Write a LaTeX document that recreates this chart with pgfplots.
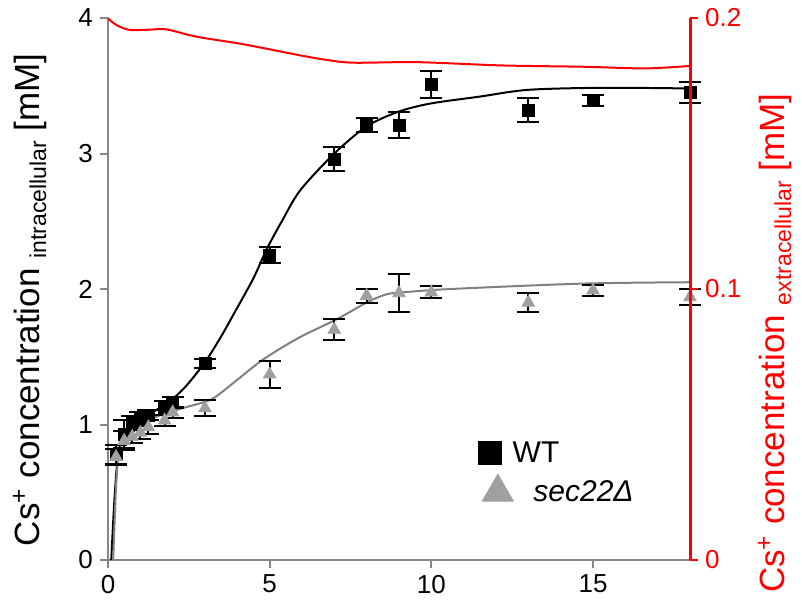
\documentclass[border=0pt]{standalone}
\usepackage{fontspec}
\setmainfont{Liberation Sans}
\usepackage{pgfplots}
\pgfplotsset{compat=1.18}
\definecolor{axgray}{RGB}{134,134,134}
\definecolor{fitgray}{RGB}{128,128,128}
\definecolor{trigray}{RGB}{160,160,160}
\newcommand{\sub}[1]{\raisebox{-0.35ex}{\fontsize{11.5}{11.5}\selectfont #1}}

% WT and sec22 means with SD
\pgfplotstableread{
x y e
0.25 0.78 0.07
0.5 0.93 0.10
0.75 1.01 0.05
1 1.04 0.05
1.25 1.07 0.04
1.75 1.12 0.05
2 1.16 0.04
3 1.45 0.03
5 2.25 0.06
7 2.96 0.09
8 3.21 0.05
9 3.21 0.095
10 3.51 0.10
13 3.32 0.09
15 3.39 0.04
18 3.45 0.075
}\wt
\pgfplotstableread{
x y e
0.25 0.76 0.06
0.5 0.88 0.07
0.75 0.91 0.05
1 0.94 0.05
1.25 0.98 0.05
1.75 1.03 0.04
2 1.09 0.04
3 1.12 0.06
5 1.37 0.10
7 1.70 0.08
8 1.95 0.05
9 1.97 0.14
10 1.975 0.045
13 1.90 0.07
15 1.99 0.04
18 1.94 0.06
}\sec

\begin{document}
\begin{tikzpicture}
\useasboundingbox (-54pt,-25.5pt) rectangle (347pt,280pt);
\begin{axis}[
  scale only axis, width=291pt, height=271pt,
  xmin=0, xmax=18, ymin=0, ymax=4,
  axis x line*=bottom, axis y line*=left,
  axis line style={axgray, line width=1.2pt, -},
  xtick={0,5,10,15}, ytick={0,1,2,3,4},
  tick align=outside, major tick length=4pt,
  tick style={axgray, line width=1pt},
  /pgf/number format/assume math mode=true,
  tick label style={font=\fontsize{13}{13}\selectfont},
  ylabel={Cs\textsuperscript{+} concentration \sub{intracellular} [mM]},
  ylabel style={font=\fontsize{17.5}{17.5}\selectfont, at={(axis description cs:0,0.48)}, anchor=center, yshift=39pt},
  clip=false,
  legend style={at={(axis description cs:0.626,0.197)}, anchor=west, draw=none, fill=none,
    font=\fontsize{15}{15}\selectfont},
  legend cell align=left,
]
\addplot[black, line width=1pt, smooth, forget plot] coordinates {(0.1,0) (0.2,0.45) (0.3,0.75) (0.45,0.92) (0.75,1.01) (1.3,1.08) (1.9,1.17) (2.4,1.28) (3,1.46) (3.5,1.65) (3.9,1.82) (4.5,2.08) (4.9,2.29) (5.4,2.51) (5.95,2.73) (7,3.0) (8,3.2) (9,3.31) (10,3.37) (11.5,3.42) (13,3.47) (15.3,3.485) (18,3.48)};
\addplot[fitgray, line width=1pt, smooth, forget plot] coordinates {(0.16,0) (0.26,0.59) (0.36,0.8) (0.57,0.935) (0.88,1.0) (1.4,1.05) (2.3,1.12) (2.9,1.16) (3.3,1.2) (4,1.33) (4.8,1.48) (5.9,1.64) (7.1,1.78) (8,1.9) (8.6,1.96) (9.1,1.975) (10.6,2.0) (14.7,2.04) (18,2.05)};
\addplot[black, only marks, mark=square*, mark size=3pt, forget plot,
  error bars/.cd, y dir=both, y explicit,
  error bar style={black, line width=1pt},
  error mark options={black, rotate=90, mark size=5.5pt, line width=1pt}]
  table[x=x, y=y, y error=e] {\wt};
\addplot[only marks, mark=triangle*, mark size=3.6pt, color=trigray, forget plot,
  error bars/.cd, y dir=both, y explicit,
  error bar style={black, line width=1pt},
  error mark options={black, rotate=90, mark size=5.5pt, line width=1pt}]
  table[x=x, y=y, y error=e] {\sec};
\addlegendimage{only marks, mark=square*, black, mark size=5.75pt}
\addlegendentry{\hspace*{3.5pt}WT}
\end{axis}
\begin{axis}[
  scale only axis, width=291pt, height=271pt,
  xmin=0, xmax=18, ymin=0, ymax=0.2,
  axis x line=none, axis y line*=right,
  axis line style={red, line width=1.5pt, -},
  ytick={0,0.1,0.2}, yticklabels={0,0.1,0.2},
  tick align=outside, major tick length=4pt,
  tick style={red, line width=1.2pt},
  /pgf/number format/assume math mode=true,
  tick label style={font=\fontsize{13}{13}\selectfont, red},
  ylabel={Cs\textsuperscript{+} concentration \sub{extracellular} [mM]},
  ylabel style={font=\fontsize{17.5}{17.5}\selectfont, red, at={(axis description cs:1,0.40)}, anchor=center, yshift=-42.5pt},
  clip=false,
  legend style={at={(axis description cs:0.632,0.127)}, anchor=west, draw=none, fill=none,
    font=\fontsize{15}{15}\selectfont},
  legend cell align=left,
]
\addplot[red, line width=1pt, smooth, forget plot] coordinates {(0,0.1999) (0.26,0.1974) (0.67,0.1956) (1.3,0.1957) (1.81,0.1958) (2.74,0.1931) (4.19,0.1903) (5.95,0.1862) (6.78,0.1845) (7.61,0.1835) (9.58,0.1837) (12.16,0.1825) (14.75,0.1820) (16.6,0.1814) (18,0.1823)};
\addlegendimage{only marks, mark=triangle*, trigray, mark size=9pt}
\addlegendentry{\hspace*{8pt}\itshape sec22Δ}
\end{axis}
\end{tikzpicture}
\end{document}
